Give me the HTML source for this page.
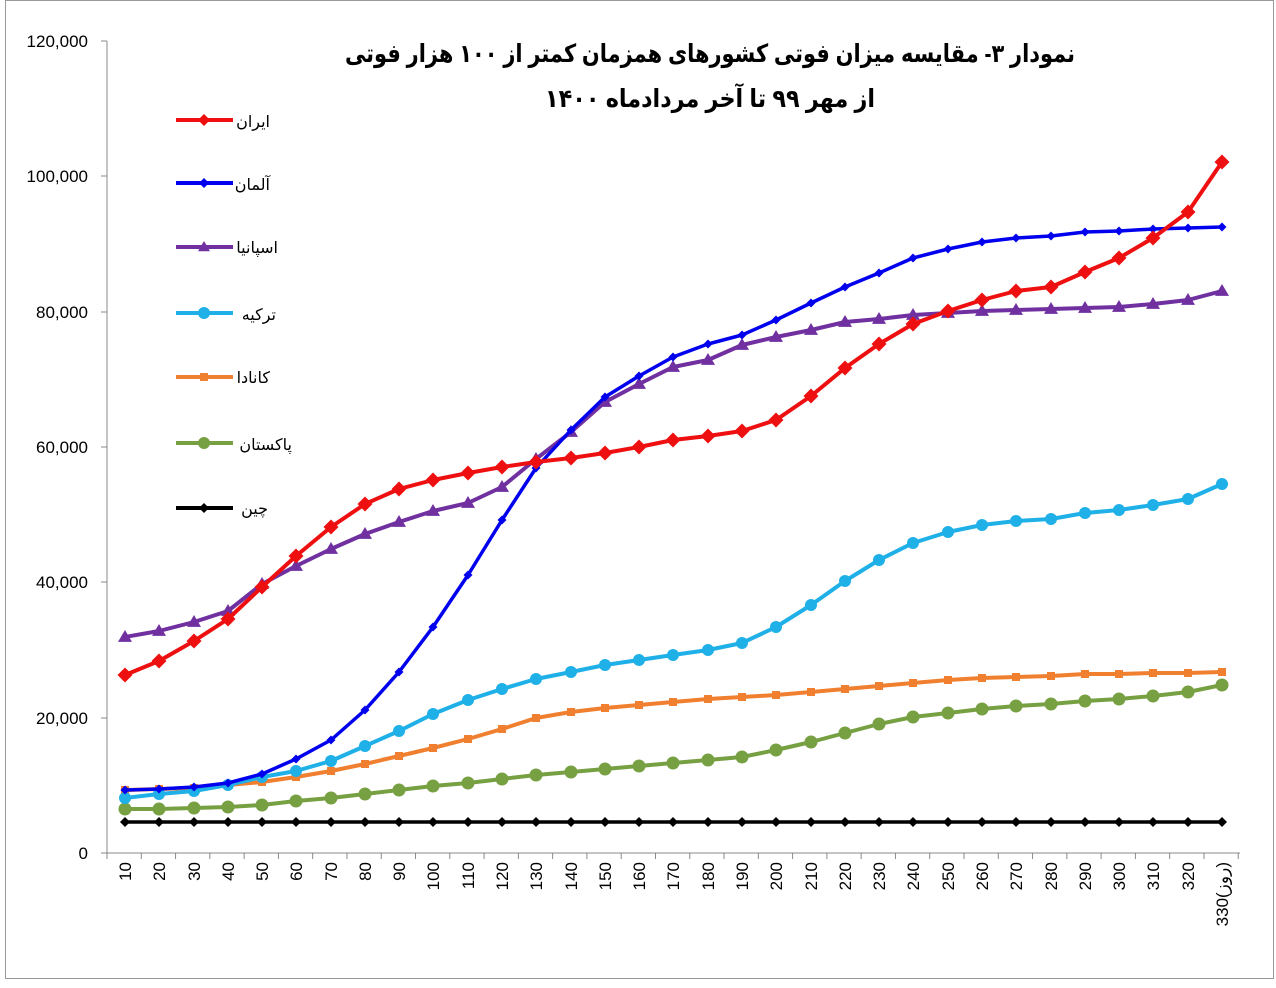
<!DOCTYPE html>
<html><head><meta charset="utf-8"><style>
body{margin:0;background:#fff}
svg{display:block}
text{font-family:"Liberation Sans","DejaVu Sans",sans-serif}
</style></head><body>
<svg id="s" width="1276" height="988" xmlns="http://www.w3.org/2000/svg">
<rect x="5.5" y="0.5" width="1268" height="978" fill="#fff" stroke="#999"/>
<g stroke="#888" stroke-width="1">
<line x1="107" y1="41" x2="107" y2="853"/>
<line x1="107" y1="853" x2="1240" y2="853"/>
<line x1="101" y1="41" x2="107" y2="41"/><line x1="101" y1="176" x2="107" y2="176"/>
<line x1="101" y1="312" x2="107" y2="312"/><line x1="101" y1="447" x2="107" y2="447"/>
<line x1="101" y1="582" x2="107" y2="582"/><line x1="101" y1="718" x2="107" y2="718"/>
<line x1="101" y1="853" x2="107" y2="853"/>
</g>
<g id="xt" stroke="#888"></g>
<g font-size="17" text-anchor="end" fill="#000">
<text x="88" y="47">120,000</text><text x="88" y="182">100,000</text>
<text x="88" y="318">80,000</text><text x="88" y="453">60,000</text>
<text x="88" y="588">40,000</text><text x="88" y="724">20,000</text>
<text x="88" y="859">0</text>
</g>
<g font-size="17" text-anchor="end">
<text transform="translate(131,862) rotate(-90)">10</text>
<text transform="translate(165,862) rotate(-90)">20</text>
<text transform="translate(200,862) rotate(-90)">30</text>
<text transform="translate(234,862) rotate(-90)">40</text>
<text transform="translate(268,862) rotate(-90)">50</text>
<text transform="translate(302,862) rotate(-90)">60</text>
<text transform="translate(337,862) rotate(-90)">70</text>
<text transform="translate(371,862) rotate(-90)">80</text>
<text transform="translate(405,862) rotate(-90)">90</text>
<text transform="translate(439,862) rotate(-90)">100</text>
<text transform="translate(474,862) rotate(-90)">110</text>
<text transform="translate(508,862) rotate(-90)">120</text>
<text transform="translate(542,862) rotate(-90)">130</text>
<text transform="translate(577,862) rotate(-90)">140</text>
<text transform="translate(611,862) rotate(-90)">150</text>
<text transform="translate(645,862) rotate(-90)">160</text>
<text transform="translate(679,862) rotate(-90)">170</text>
<text transform="translate(714,862) rotate(-90)">180</text>
<text transform="translate(748,862) rotate(-90)">190</text>
<text transform="translate(782,862) rotate(-90)">200</text>
<text transform="translate(817,862) rotate(-90)">210</text>
<text transform="translate(851,862) rotate(-90)">220</text>
<text transform="translate(885,862) rotate(-90)">230</text>
<text transform="translate(919,862) rotate(-90)">240</text>
<text transform="translate(954,862) rotate(-90)">250</text>
<text transform="translate(988,862) rotate(-90)">260</text>
<text transform="translate(1022,862) rotate(-90)">270</text>
<text transform="translate(1057,862) rotate(-90)">280</text>
<text transform="translate(1091,862) rotate(-90)">290</text>
<text transform="translate(1125,862) rotate(-90)">300</text>
<text transform="translate(1159,862) rotate(-90)">310</text>
<text transform="translate(1194,862) rotate(-90)">320</text>
<text transform="translate(1228,862) rotate(-90)">330(روز)</text>
</g>
<g font-family="'Liberation Sans','DejaVu Sans',sans-serif" font-weight="bold" font-size="25" text-anchor="middle" direction="rtl">
<text x="710" y="62" textLength="730" lengthAdjust="spacingAndGlyphs">نمودار ۳- مقایسه میزان فوتی کشورهای همزمان کمتر از ۱۰۰ هزار فوتی</text>
<text x="710" y="107" textLength="330" lengthAdjust="spacingAndGlyphs">از مهر ۹۹ تا  آخر مردادماه ۱۴۰۰</text>
</g>
<g id="series"></g>
<g id="leg"></g>
<g font-size="16" text-anchor="start" direction="rtl">
<text x="270" y="127">ایران</text>
<text x="270" y="190">آلمان</text>
<text x="278" y="253">اسپانیا</text>
<text x="276" y="320">ترکیه</text>
<text x="270" y="383">کانادا</text>
<text x="292" y="450">پاکستان</text>
<text x="268" y="514">چین</text>
</g>
</svg>
<script>
const X=[125,159,194,228,262,296,331,365,399,433,468,502,536,571,605,639,673,708,742,776,811,845,879,913,948,982,1016,1051,1085,1119,1153,1188,1222];
const S=[
["#000",[822],"d",5,3.5],
["#77a043",[809,809,808,807,805,801,798,794,790,786,783,779,775,772,769,766,763,760,757,750,742,733,724,717,713,709,706,704,701,699,696,692,685],"c",6.5,4],
["#f08030",[790,789,788,785,782,777,771,764,756,748,739,729,718,712,708,705,702,699,697,695,692,689,686,683,680,678,677,676,674,674,673,673,672],"s",4,4],
["#1fb0e8",[798,794,791,785,777,771,761,746,731,714,700,689,679,672,665,660,655,650,643,627,605,581,560,543,532,525,521,519,513,510,505,499,484],"c",6,4],
["#7030a0",[637,631,622,611,584,566,549,534,522,511,503,487,459,432,402,384,367,360,345,337,330,322,319,315,313,311,310,309,308,307,304,300,291],"t",7,4],
["#0000ee",[790,789,787,783,774,759,740,710,672,627,575,520,468,430,397,376,357,344,335,320,303,287,273,258,249,242,238,236,232,231,229,228,227],"d",4.5,3.5],
["#ee1010",[675,661,641,619,587,556,527,504,489,480,473,467,462,458,453,447,440,436,431,420,396,368,344,324,311,300,291,287,272,258,238,212,162],"d",7.5,4]
];
const NS="http://www.w3.org/2000/svg";
function el(t,a,p){const e=document.createElementNS(NS,t);for(const k in a)e.setAttribute(k,a[k]);p.appendChild(e);return e;}
function mk(x,y,m,r,c,p){
 if(m=="d")el("polygon",{points:`${x},${y-r} ${x+r},${y} ${x},${y+r} ${x-r},${y}`,fill:c},p);
 else if(m=="c")el("circle",{cx:x,cy:y,r:r,fill:c},p);
 else if(m=="s")el("rect",{x:x-r,y:y-r,width:2*r,height:2*r,fill:c},p);
 else el("polygon",{points:`${x},${y-r} ${x+r},${y+r*0.7} ${x-r},${y+r*0.7}`,fill:c},p);
}
const g=document.getElementById("series");
for(const [c,ys,m,r,w] of S){
 const Y=ys.length==1?X.map(()=>ys[0]):ys;
 el("polyline",{points:X.map((x,i)=>x+","+Y[i]).join(" "),fill:"none",stroke:c,"stroke-width":w,"stroke-linejoin":"round"},g);
 X.forEach((x,i)=>mk(x,Y[i],m,r,c,g));
}
const xt=document.getElementById("xt");
for(let i=0;i<=33;i++){const x=107+34.28*i;el("line",{x1:x,y1:853,x2:x,y2:859},xt);}
const L=[["#ee1010",120,"d",6],["#0000ee",183,"d",5],["#7030a0",247,"t",6],["#1fb0e8",313,"c",6],["#f08030",377,"s",4],["#77a043",443,"c",6],["#000",508,"d",5]];
const lg=document.getElementById("leg");
for(const [c,y,m,r] of L){el("line",{x1:176,y1:y,x2:233,y2:y,stroke:c,"stroke-width":4},lg);mk(204,y,m,r,c,lg);}
</script>
</body></html>
